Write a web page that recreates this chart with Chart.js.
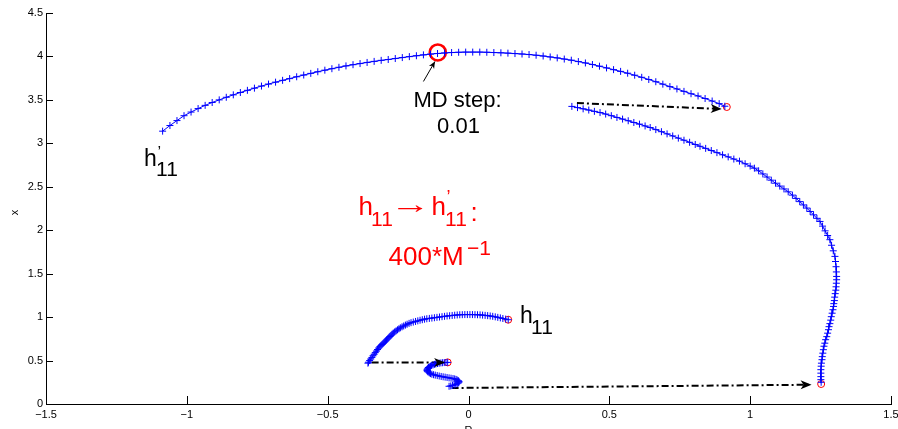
<!DOCTYPE html>
<html>
<head>
<meta charset="utf-8">
<script src="https://cdn.jsdelivr.net/npm/chart.js@4/dist/chart.umd.min.js"></script>
<style>
html,body{margin:0;padding:0;background:#fff;overflow:hidden;}
canvas{display:block;}
</style>
</head>
<body>
<canvas id="c" width="898" height="429"></canvas>
<script>
// ---------- DATA ----------
const xTicks = [-1.5, -1, -0.5, 0, 0.5, 1, 1.5];
const yTicks = [0, 0.5, 1, 1.5, 2, 2.5, 3, 3.5, 4, 4.5];

// upper arc (ends at h'11)
const upperArcX = [0.910,0.890,0.865,0.840,0.815,0.790,0.765,0.740,0.715,0.690,0.665,0.640,0.615,0.590,0.565,0.540,0.515,0.490,0.465,0.440,0.415,0.390,0.365,0.340,0.315,0.290,0.265,0.240,0.215,0.190,0.165,0.140,0.115,0.090,0.065,0.040,0.015,-0.010,-0.035,-0.060,-0.085,-0.110,-0.135,-0.160,-0.185,-0.210,-0.235,-0.260,-0.285,-0.310,-0.335,-0.360,-0.385,-0.410,-0.435,-0.460,-0.485,-0.510,-0.535,-0.560,-0.585,-0.610,-0.635,-0.660,-0.685,-0.710,-0.735,-0.760,-0.785,-0.810,-0.835,-0.860,-0.885,-0.910,-0.935,-0.960,-0.985,-1.010,-1.035,-1.060,-1.086];
const upperArcY = [3.427,3.457,3.487,3.516,3.545,3.571,3.598,3.626,3.653,3.681,3.709,3.735,3.760,3.784,3.807,3.828,3.848,3.868,3.888,3.907,3.925,3.941,3.957,3.970,3.983,3.994,4.005,4.014,4.022,4.028,4.033,4.038,4.042,4.045,4.048,4.050,4.050,4.050,4.048,4.045,4.040,4.034,4.027,4.018,4.008,3.998,3.987,3.976,3.965,3.955,3.943,3.931,3.918,3.905,3.891,3.875,3.859,3.842,3.824,3.805,3.786,3.766,3.745,3.725,3.704,3.682,3.659,3.635,3.610,3.585,3.558,3.530,3.500,3.470,3.437,3.400,3.360,3.318,3.262,3.205,3.140];

// right curve (from upper-left start down to the red circle near the bottom)
const rightCurveX = [0.367,0.387,0.407,0.427,0.447,0.467,0.487,0.507,0.527,0.547,0.567,0.587,0.607,0.627,0.645,0.665,0.685,0.705,0.725,0.745,0.765,0.785,0.805,0.822,0.842,0.862,0.882,0.902,0.922,0.942,0.962,0.982,1.000,1.015,1.030,1.045,1.060,1.075,1.090,1.105,1.120,1.135,1.150,1.163,1.176,1.189,1.201,1.213,1.225,1.237,1.248,1.257,1.266,1.275,1.283,1.289,1.295,1.301,1.303,1.305,1.306,1.307,1.307,1.306,1.305,1.304,1.302,1.300,1.299,1.297,1.296,1.294,1.291,1.288,1.286,1.283,1.280,1.278,1.275,1.272,1.268,1.265,1.262,1.260,1.258,1.256,1.255,1.253,1.252,1.251,1.251,1.251,1.251,1.252];
const rightCurveY = [3.425,3.411,3.397,3.383,3.368,3.354,3.337,3.318,3.298,3.279,3.260,3.240,3.221,3.200,3.182,3.158,3.134,3.109,3.085,3.060,3.036,3.012,2.987,2.966,2.942,2.917,2.893,2.868,2.844,2.819,2.795,2.765,2.738,2.714,2.684,2.648,2.612,2.576,2.541,2.508,2.475,2.442,2.404,2.366,2.329,2.291,2.255,2.216,2.177,2.137,2.101,2.047,1.993,1.939,1.891,1.827,1.763,1.699,1.640,1.580,1.520,1.468,1.430,1.390,1.349,1.310,1.270,1.230,1.190,1.155,1.123,1.085,1.045,1.005,0.965,0.925,0.890,0.855,0.815,0.775,0.740,0.700,0.665,0.625,0.585,0.545,0.510,0.470,0.435,0.395,0.355,0.315,0.280,0.250];

// lower arc starting at h11
const lowerArcX = [0.141,0.132,0.122,0.113,0.104,0.095,0.086,0.077,0.068,0.059,0.050,0.041,0.032,0.023,0.014,0.005,-0.004,-0.013,-0.022,-0.031,-0.040,-0.049,-0.058,-0.067,-0.076,-0.085,-0.094,-0.103,-0.112,-0.121,-0.130,-0.139,-0.148,-0.156,-0.164,-0.172,-0.180,-0.188,-0.196,-0.204,-0.211,-0.218,-0.224,-0.230,-0.236,-0.242,-0.247,-0.252,-0.257,-0.262,-0.267,-0.271,-0.275,-0.279,-0.283,-0.287,-0.291,-0.295,-0.299,-0.303,-0.307,-0.311,-0.315,-0.319,-0.323,-0.327,-0.331,-0.335,-0.339,-0.343,-0.347,-0.351,-0.355,-0.357];
const lowerArcY = [0.970,0.977,0.984,0.991,0.997,1.003,1.009,1.013,1.017,1.020,1.023,1.026,1.027,1.028,1.029,1.029,1.029,1.029,1.028,1.027,1.025,1.022,1.019,1.016,1.013,1.009,1.005,1.001,0.997,0.993,0.989,0.985,0.981,0.976,0.970,0.964,0.957,0.950,0.943,0.936,0.928,0.918,0.908,0.898,0.888,0.877,0.866,0.854,0.842,0.830,0.817,0.804,0.790,0.777,0.763,0.750,0.737,0.724,0.711,0.698,0.685,0.672,0.659,0.644,0.627,0.609,0.591,0.573,0.555,0.536,0.518,0.500,0.481,0.470];

// small squiggle
const squiggleX = [-0.074,-0.080,-0.086,-0.092,-0.098,-0.104,-0.110,-0.116,-0.121,-0.126,-0.131,-0.135,-0.139,-0.142,-0.144,-0.146,-0.147,-0.147,-0.146,-0.143,-0.139,-0.135,-0.130,-0.124,-0.118,-0.111,-0.104,-0.097,-0.090,-0.083,-0.076,-0.069,-0.062,-0.055,-0.049,-0.044,-0.040,-0.036,-0.034,-0.034,-0.036,-0.040,-0.045,-0.051,-0.057,-0.063,-0.069];
const squiggleY = [0.479,0.478,0.477,0.475,0.473,0.470,0.466,0.461,0.456,0.450,0.443,0.436,0.428,0.420,0.412,0.403,0.394,0.385,0.376,0.367,0.358,0.350,0.343,0.337,0.332,0.327,0.322,0.317,0.313,0.309,0.305,0.301,0.297,0.293,0.289,0.283,0.276,0.268,0.260,0.251,0.242,0.234,0.226,0.219,0.213,0.208,0.204];

// red open circles (start of each segment)
const startCircleX = [0.141, -0.074, 1.252, 0.917];
const startCircleY = [0.970, 0.479, 0.230, 3.418];

// highlighted point (MD step)
const mdPointX = [-0.109];
const mdPointY = [4.046];

// dash-dot jump arrows: [start, tip]
const jump1X = [-0.344, -0.083]; const jump1Y = [0.479, 0.479];
const jump2X = [-0.060, 1.218];  const jump2Y = [0.184, 0.222];
const jump3X = [0.385, 0.899];   const jump3Y = [3.464, 3.395];

// MD step pointer arrow: [tail, tip]
const mdArrowX = [-0.160, -0.119]; const mdArrowY = [3.712, 3.942];

// ---------- build ----------
const pts = (xs, ys) => xs.map((x, i) => ({x: x, y: ys[i]}));
const BLUE = '#0000ff';
const FONT = '"Liberation Sans", Arial, Helvetica, sans-serif';

function curve(xs, ys) {
  return {data: pts(xs, ys), showLine: true, borderColor: BLUE, borderWidth: 1,
    pointStyle: 'cross', pointRadius: 3.5, pointBorderColor: BLUE, pointBorderWidth: 1,
    pointBackgroundColor: BLUE, fill: false, tension: 0};
}
function jump(xs, ys) {
  return {data: pts(xs, ys), showLine: true, borderColor: '#000', borderWidth: 2,
    borderDash: [7, 3, 2, 3], pointRadius: 0, fill: false, tension: 0};
}

function arrowHead(ctx, x0, y0, x1, y1, L, W, notch) {
  const dx = x1 - x0, dy = y1 - y0, len = Math.hypot(dx, dy);
  const ux = dx / len, uy = dy / len, nx = -uy, ny = ux;
  ctx.beginPath();
  ctx.moveTo(x1, y1);
  ctx.lineTo(x1 - L * ux + W * nx, y1 - L * uy + W * ny);
  ctx.lineTo(x1 - (L - notch) * ux, y1 - (L - notch) * uy);
  ctx.lineTo(x1 - L * ux - W * nx, y1 - L * uy - W * ny);
  ctx.closePath();
  ctx.fill();
}

// draw text so that its ink box starts at inkLeft and its vertical ink centre sits at inkMidY
function inkText(ctx, s, font, color, inkLeft, inkMidY, targetW) {
  ctx.save();
  ctx.font = font; ctx.fillStyle = color; ctx.textAlign = 'left'; ctx.textBaseline = 'alphabetic';
  const m = ctx.measureText(s);
  const w = m.actualBoundingBoxLeft + m.actualBoundingBoxRight;
  const sx = targetW ? targetW / w : 1;
  const midOff = (m.actualBoundingBoxAscent - m.actualBoundingBoxDescent) / 2;
  ctx.translate(inkLeft, inkMidY + midOff);
  ctx.scale(sx, 1);
  ctx.fillText(s, m.actualBoundingBoxLeft, 0);
  ctx.restore();
}

const decor = {
  id: 'decor',
  afterDraw(chart) {
    const ctx = chart.ctx, xs = chart.scales.x, ys = chart.scales.y, ca = chart.chartArea;
    const X = v => xs.getPixelForValue(v), Y = v => ys.getPixelForValue(v);
    ctx.save();
    // inward ticks
    ctx.strokeStyle = '#000'; ctx.lineWidth = 1;
    ctx.beginPath();
    xTicks.forEach(v => { const p = Math.round(X(v)) + 0.5; ctx.moveTo(p, ca.bottom); ctx.lineTo(p, ca.bottom - 8); });
    yTicks.forEach(v => { const p = Math.round(Y(v)) + 0.5; ctx.moveTo(ca.left, p); ctx.lineTo(ca.left + 7, p); });
    ctx.stroke();

    // arrow heads for jumps
    ctx.fillStyle = '#000';
    [[jump1X, jump1Y], [jump2X, jump2Y], [jump3X, jump3Y]].forEach(([ax, ay]) => {
      arrowHead(ctx, X(ax[0]), Y(ay[0]), X(ax[1]), Y(ay[1]), 11, 4.5, 3);
    });
    // MD pointer arrow
    ctx.beginPath();
    ctx.moveTo(X(mdArrowX[0]), Y(mdArrowY[0]));
    ctx.lineTo(X(mdArrowX[1]), Y(mdArrowY[1]));
    ctx.stroke();
    arrowHead(ctx, X(mdArrowX[0]), Y(mdArrowY[0]), X(mdArrowX[1]), Y(mdArrowY[1]), 7, 3, 2);

    // texts
    const txt = (s, x, y, size, color, align) => {
      ctx.font = size + 'px ' + FONT; ctx.fillStyle = color;
      ctx.textAlign = align || 'left'; ctx.textBaseline = 'alphabetic';
      ctx.fillText(s, x, y);
    };
    // MD step
    let ax = X(-0.039), ay = Y(3.421);
    txt('MD step:', ax, ay, 22, '#000', 'center');
    txt('0.01', ax + 1, ay + 26.3, 22, '#000', 'center');
    // h'11 (left)
    ax = X(-1.152); ay = Y(2.734);
    txt('h', ax, ay, 23, '#000');
    txt('\u2019', ax + 13.5, ay - 8, 16, '#000');
    txt('11', ax + 12, ay + 10, 21, '#000');
    // h11 (bottom)
    ax = X(0.183); ay = Y(0.932);
    txt('h', ax, ay, 23, '#000');
    txt('11', ax + 11, ay + 11, 21, '#000');
    // red label
    const RED = '#ff0000';
    ax = X(-0.3905); ay = Y(2.178);
    txt('h', ax, ay, 26, RED);
    txt('11', ax + 12.5, ay + 11.7, 21, RED);
    inkText(ctx, '\u2192', '26px ' + FONT, RED, ax + 39.5, ay - 6, 25);
    txt('h', ax + 73, ay, 26, RED);
    txt('\u2019', ax + 88, ay - 12, 18, RED);
    txt('11', ax + 86.5, ay + 11.7, 21, RED);
    txt(':', ax + 112, ay + 6, 26, RED);
    ax = X(-0.284); ay = Y(1.603);
    txt('400*M', ax, ay, 26, RED);
    txt('\u22121', ax + 78.5, ay - 10, 21, RED);

    // axis titles
    txt('R', X(0), ca.bottom + 30, 11, '#000', 'center');
    ctx.save();
    ctx.translate(ca.left - 28, (ca.top + ca.bottom) / 2 + 4);
    ctx.rotate(-Math.PI / 2);
    txt('x', 0, 0, 11, '#000', 'center');
    ctx.restore();
    ctx.restore();
  }
};

new Chart(document.getElementById('c'), {
  type: 'scatter',
  data: {
    datasets: [
      curve(upperArcX, upperArcY),
      curve(rightCurveX, rightCurveY),
      curve(lowerArcX, lowerArcY),
      curve(squiggleX, squiggleY),
      jump(jump1X, jump1Y),
      jump(jump2X, jump2Y),
      jump(jump3X, jump3Y),
      {data: pts(startCircleX, startCircleY), showLine: false, pointStyle: 'circle', pointRadius: 3.5,
       pointBorderColor: '#ff0000', pointBackgroundColor: 'rgba(0,0,0,0)', pointBorderWidth: 1},
      {data: pts(mdPointX, mdPointY), showLine: false, pointStyle: 'circle', pointRadius: 8,
       pointBorderColor: '#ff0000', pointBackgroundColor: 'rgba(0,0,0,0)', pointBorderWidth: 2.6}
    ]
  },
  options: {
    responsive: false, animation: false, devicePixelRatio: 1,
    layout: {autoPadding: false, padding: {left: 0, right: 7, top: 13, bottom: 0}},
    plugins: {legend: {display: false}, tooltip: {enabled: false}},
    scales: {
      x: {
        type: 'linear', min: -1.5, max: 1.5,
        afterBuildTicks: s => { s.ticks = xTicks.map(v => ({value: v})); },
        afterFit: s => { s.height = 25; s.paddingLeft = 0; s.paddingRight = 0; },
        grid: {display: false, drawTicks: false},
        border: {display: true, color: '#000', width: 1},
        ticks: {font: {family: FONT, size: 11}, color: '#000', padding: 4, maxRotation: 0, autoSkip: false,
                callback: v => v < 0 ? '\u2212' + Math.abs(v) : String(v)}
      },
      y: {
        type: 'linear', min: 0, max: 4.5,
        afterBuildTicks: s => { s.ticks = yTicks.map(v => ({value: v})); },
        afterFit: s => { s.width = 46; s.paddingTop = 0; s.paddingBottom = 0; },
        grid: {display: false, drawTicks: false},
        border: {display: true, color: '#000', width: 1},
        ticks: {font: {family: FONT, size: 11}, color: '#000', padding: 3, autoSkip: false,
                callback: v => String(v)}
      }
    }
  },
  plugins: [decor]
});
</script>
</body>
</html>
